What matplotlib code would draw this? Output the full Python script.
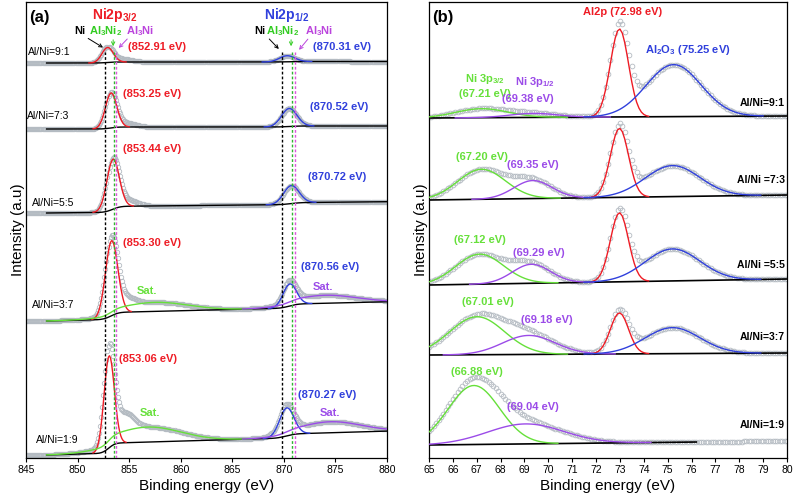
import numpy as np
import matplotlib.pyplot as plt

plt.rcParams['font.family'] = ['Liberation Sans', 'DejaVu Sans']
plt.rcParams['mathtext.fontset'] = 'custom'
plt.rcParams['mathtext.rm'] = 'Liberation Sans'
plt.rcParams['mathtext.bf'] = 'Liberation Sans:bold'

RED = '#ee1c25'
BLUE = '#3040dc'
GREEN = '#66e03a'
PURPLE = '#9b4be8'
MAGENTA = '#dd55dd'
DATA = '#b4bbc2'

# ---- panel (a): Ni 2p, stacked spectra (y in arbitrary offset units) ----
ni_samples = ['9:1', '7:3', '5:5', '3:7', '1:9']
ni_base = [395, 329, 245, 137, 3]          # background level at low-BE side
ni_step32 = [1, 2, 6, 7, 10]               # Shirley step across 2p3/2
ni_step12 = [0.5, 1, 2, 4, 4]              # Shirley step across 2p1/2
ni_slope = [0.0, 0.0, 0.1, 0.25, 0.3]      # background slope per eV
ni_p32_pos = [852.91, 853.25, 853.44, 853.30, 853.06]
ni_p32_amp = [15, 35, 50, 75, 92]
ni_p32_wid = [0.55, 0.55, 0.6, 0.6, 0.5]
ni_p12_pos = [870.31, 870.52, 870.72, 870.56, 870.27]
ni_p12_amp = [6, 18, 18, 22, 28]
ni_p12_wid = [0.75, 0.75, 0.75, 0.65, 0.7]
ni_sat32_pos = [857.2, 857.2, 857.2, 857.5, 856.8]
ni_sat32_amp = [0, 0, 0, 9, 15]
ni_sat12_pos = [874.0, 874.0, 874.0, 874.0, 874.5]
ni_sat12_amp = [0, 0, 0, 8, 11]
ni_shoulder = [3, 4, 6, 8, 18]             # unlabelled shoulder seen only in data

ni_ref_lines = [852.7, 853.5, 853.7, 869.85, 870.75, 871.1]

# ---- panel (b): Ni 3p / Al 2p ----
al_samples = ['9:1', '7:3', '5:5', '3:7', '1:9']
al_base_lo = [340, 258, 173, 103, 13]      # background at 65 eV
al_base_hi = [342, 263, 179, 105, 17]      # background at 80 eV
al2p_pos = [72.98, 72.98, 72.98, 72.98, 72.98]
al2p_amp = [88, 69, 69, 41, 0]
al2o3_pos = [75.25, 75.2, 75.2, 75.2, 75.2]
al2o3_amp = [52, 31, 32, 26, 0]
ni3p32_pos = [67.21, 67.20, 67.12, 67.01, 66.88]
ni3p32_amp = [9, 30, 30, 38, 59]
ni3p32_wid = [1.1, 1.0, 1.0, 1.15, 1.08]
ni3p12_pos = [69.38, 69.35, 69.29, 69.18, 69.04]
ni3p12_amp = [4, 18, 19, 19, 20]
ni3p12_wid = [1.0, 0.8, 0.8, 1.1, 1.6]


def gauss(x, c, a, w):
    return a * np.exp(-0.5 * ((x - c) / w) ** 2)


def step(x, c, w):
    g = np.exp(-0.5 * ((x - c) / w) ** 2)
    s = np.cumsum(g)
    return s / s[-1]


def comp(ax, x, base, c, a, w, color, lw=1.0):
    m = np.abs(x - c) < 3.3 * w
    ax.plot(x[m], base[m] + gauss(x[m], c, a, w), color=color, lw=lw, zorder=4)


fig = plt.figure(figsize=(7.96, 5.0), dpi=100)
ax_a = fig.add_axes([26 / 796, 42 / 500, 361 / 796, 456 / 500])
ax_b = fig.add_axes([429 / 796, 42 / 500, 358 / 796, 456 / 500])

# ----- panel (a) -----
ea = np.arange(845, 880.01, 0.1)
for i in range(5):
    bg = (ni_base[i] + ni_step32[i] * step(ea, ni_p32_pos[i], ni_p32_wid[i])
          + ni_step12[i] * step(ea, ni_p12_pos[i], ni_p12_wid[i])
          + ni_slope[i] * np.clip(ea - 847, 0, None))
    total = (bg + gauss(ea, ni_p32_pos[i], ni_p32_amp[i], ni_p32_wid[i])
             + gauss(ea, ni_p12_pos[i], ni_p12_amp[i], ni_p12_wid[i])
             + gauss(ea, ni_sat32_pos[i], ni_sat32_amp[i], 3.2)
             + gauss(ea, ni_sat12_pos[i], ni_sat12_amp[i], 3.0)
             + gauss(ea, ni_p32_pos[i] + 1.5, ni_shoulder[i], 0.9))
    ax_a.plot(ea, total, 'o', ms=3.2, mfc='none', mec=DATA, mew=0.6, zorder=2)
    m = ea >= 847
    ax_a.plot(ea[m], bg[m], color='black', lw=1.0, zorder=3)
    comp(ax_a, ea, bg, ni_p32_pos[i], ni_p32_amp[i], ni_p32_wid[i], RED)
    comp(ax_a, ea, bg, ni_p12_pos[i], ni_p12_amp[i], ni_p12_wid[i], BLUE)
    if ni_sat32_amp[i]:
        mm = (ea >= 847) & (ea <= 867)
        ax_a.plot(ea[mm], bg[mm] + gauss(ea[mm], ni_sat32_pos[i], ni_sat32_amp[i], 3.2),
                  color=GREEN, lw=1.0, zorder=4)
        mm = ea >= 866
        ax_a.plot(ea[mm], bg[mm] + gauss(ea[mm], ni_sat12_pos[i], ni_sat12_amp[i], 3.0),
                  color=PURPLE, lw=1.0, zorder=4)

for xv, c in zip(ni_ref_lines, ['black', '#2fb52f', MAGENTA] * 2):
    ax_a.plot([xv, xv], [0, 406], ls=(0, (2, 1.5)), color=c, lw=1.0, zorder=5)

fs = 8
pk = dict(fontsize=fs, fontweight='bold', ha='center', va='center')
ax_a.text(857.7, 411, '(852.91 eV)', color=RED, **pk)
ax_a.text(875.6, 411, '(870.31 eV)', color=BLUE, **pk)
ax_a.text(857.2, 364, '(853.25 eV)', color=RED, **pk)
ax_a.text(875.4, 351, '(870.52 eV)', color=BLUE, **pk)
ax_a.text(857.2, 309, '(853.44 eV)', color=RED, **pk)
ax_a.text(875.2, 281, '(870.72 eV)', color=BLUE, **pk)
ax_a.text(857.2, 215, '(853.30 eV)', color=RED, **pk)
ax_a.text(874.5, 191, '(870.56 eV)', color=BLUE, **pk)
ax_a.text(856.7, 167, 'Sat.', color=GREEN, **pk)
ax_a.text(873.8, 171, 'Sat.', color=PURPLE, **pk)
ax_a.text(856.8, 99, '(853.06 eV)', color=RED, **pk)
ax_a.text(874.2, 63, '(870.27 eV)', color=BLUE, **pk)
ax_a.text(857.0, 45, 'Sat.', color=GREEN, **pk)
ax_a.text(874.5, 45, 'Sat.', color=PURPLE, **pk)

for s, x, y in zip(ni_samples, [845.2, 845.1, 845.6, 845.6, 846.0], [406, 342, 255, 153, 18]):
    ax_a.text(x, y, 'Al/Ni=' + s, fontsize=7.5, ha='left', va='center', zorder=6)

ax_a.text(853.6, 443, r'Ni2p$_{\mathbf{3/2}}$', color=RED, fontsize=10, fontweight='bold',
          ha='center', va='center')
ax_a.text(870.3, 443, r'Ni2p$_{\mathbf{1/2}}$', color=BLUE, fontsize=10, fontweight='bold',
          ha='center', va='center')

phase = [('Ni', 'black'), (r'Al$_{\mathbf{3}}$Ni$_{\mathbf{2}}$', '#33cc22'),
         (r'Al$_{\mathbf{3}}$Ni', '#bb44dd')]
lab_x = [[850.2, 852.7, 856.05], [867.7, 869.9, 873.4]]
arr = [[((850.8, 421), (852.7, 409)), ((853.45, 421), (853.45, 409)), ((855.0, 421), (853.8, 408))],
       [((868.4, 421), (869.7, 407)), ((870.7, 421), (870.7, 409)), ((872.5, 421), (871.3, 406))]]
for g in range(2):
    for k, (t, c) in enumerate(phase):
        ax_a.text(lab_x[g][k], 427, t, color=c, fontsize=8, fontweight='bold',
                  ha='center', va='center')
        (x0, y0), (x1, y1) = arr[g][k]
        ax_a.annotate('', xy=(x1, y1), xytext=(x0, y0),
                      arrowprops=dict(arrowstyle='->', color=c, lw=0.7,
                                      mutation_scale=6))

ax_a.text(0.01, 0.967, '(a)', transform=ax_a.transAxes, fontsize=12, fontweight='bold',
          va='center', ha='left')

ax_a.set_xlim(845, 880)
ax_a.set_xticks(np.arange(845, 881, 5))

# ----- panel (b) -----
eb = np.arange(65, 80.01, 0.1)
for i in range(5):
    bg = al_base_lo[i] + (al_base_hi[i] - al_base_lo[i]) * (eb - 65) / 15
    total = (bg + gauss(eb, al2p_pos[i], al2p_amp[i], 0.38)
             + gauss(eb, al2o3_pos[i], al2o3_amp[i], 1.15)
             + gauss(eb, ni3p32_pos[i], ni3p32_amp[i], ni3p32_wid[i])
             + gauss(eb, ni3p12_pos[i], ni3p12_amp[i], ni3p12_wid[i]))
    ax_b.plot(eb, total, 'o', ms=3.4, mfc='none', mec=DATA, mew=0.6, zorder=2)
    m = eb <= (80 if i < 4 else 76.2)
    ax_b.plot(eb[m], bg[m], color='black', lw=1.2, zorder=3)
    comp(ax_b, eb, bg, ni3p32_pos[i], ni3p32_amp[i], ni3p32_wid[i], GREEN)
    comp(ax_b, eb, bg, ni3p12_pos[i], ni3p12_amp[i], ni3p12_wid[i], PURPLE)
    if al2p_amp[i]:
        comp(ax_b, eb, bg, al2p_pos[i], al2p_amp[i], 0.38, RED)
        comp(ax_b, eb, bg, al2o3_pos[i], al2o3_amp[i], 1.15, BLUE)

ax_b.text(73.13, 446, 'Al2p (72.98 eV)', color=RED, **pk)
ax_b.text(75.85, 408, r'Al$_{\mathbf{2}}$O$_{\mathbf{3}}$ (75.25 eV)', color=BLUE, **pk)
ax_b.text(67.35, 379, r'Ni 3p$_{\mathbf{3/2}}$', color=GREEN, **pk)
ax_b.text(67.35, 364, '(67.21 eV)', color=GREEN, **pk)
ax_b.text(69.44, 376, r'Ni 3p$_{\mathbf{1/2}}$', color=PURPLE, **pk)
ax_b.text(69.15, 359, '(69.38 eV)', color=PURPLE, **pk)
ax_b.text(67.22, 301, '(67.20 eV)', color=GREEN, **pk)
ax_b.text(69.36, 293, '(69.35 eV)', color=PURPLE, **pk)
ax_b.text(67.14, 218, '(67.12 eV)', color=GREEN, **pk)
ax_b.text(69.61, 205, '(69.29 eV)', color=PURPLE, **pk)
ax_b.text(67.47, 156, '(67.01 eV)', color=GREEN, **pk)
ax_b.text(69.94, 138, '(69.18 eV)', color=PURPLE, **pk)
ax_b.text(67.0, 86, '(66.88 eV)', color=GREEN, **pk)
ax_b.text(69.36, 51, '(69.04 eV)', color=PURPLE, **pk)

b_lab = ['Al/Ni=', 'Al/Ni =', 'Al/Ni =', 'Al/Ni=', 'Al/Ni=']
for s, p, y in zip(al_samples, b_lab, [355, 278, 193, 121, 33]):
    ax_b.text(79.91, y, p + s, fontsize=7.5, fontweight='bold', ha='right', va='center',
              zorder=6)

ax_b.text(0.01, 0.967, '(b)', transform=ax_b.transAxes, fontsize=12, fontweight='bold',
          va='center', ha='left')
ax_b.set_xlim(65, 80)
ax_b.set_xticks(np.arange(65, 81, 1))

for ax in (ax_a, ax_b):
    ax.set_ylim(0, 456)
    ax.set_yticks([])
    ax.set_xlabel('Binding energy (eV)', fontsize=11, labelpad=3)
    ax.set_ylabel('Intensity (a.u)', fontsize=11, labelpad=1)
    ax.tick_params(axis='x', direction='out', length=3, width=0.8, labelsize=7.5, pad=2)
    for sp in ax.spines.values():
        sp.set_linewidth(0.9)

fig.savefig('out.png', dpi=100)
